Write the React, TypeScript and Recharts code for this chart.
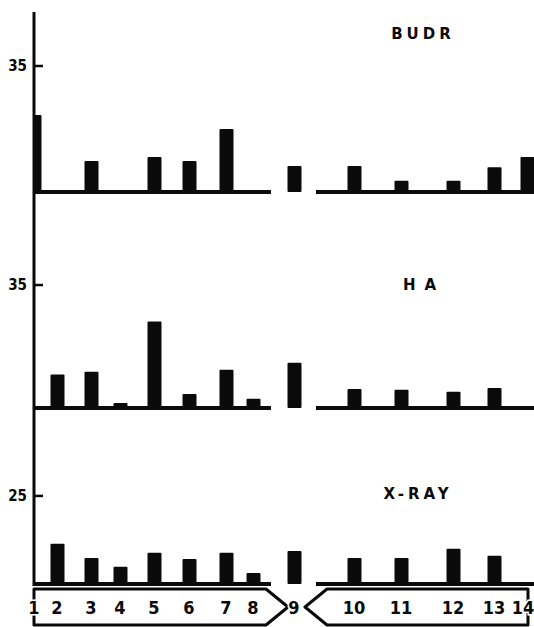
import React from "react";
import {
  Bar,
  ComposedChart,
  Customized,
  ReferenceArea,
  ReferenceLine,
  Scatter,
  XAxis,
  YAxis,
} from "recharts";

// map position of each marker along the chromosome (arbitrary map units)
const positions = [0, 23, 57, 86, 120, 155, 192, 219, 260, 320, 367, 419, 460, 493];
const markerLabels = ["1", "2", "3", "4", "5", "6", "7", "8", "9", "10", "11", "12", "13", "14"];

const budr = [21.4, 0, 8.6, 0, 9.7, 8.6, 17.5, 0, 7.2, 7.2, 3.1, 3.1, 6.9, 9.7];
const ha = [0, 9.5, 10.3, 1.4, 24.6, 4.0, 10.9, 2.6, 12.9, 5.4, 5.2, 4.6, 5.7, 0];
const xray = [0, 11.4, 7.4, 4.9, 8.9, 7.1, 8.9, 3.1, 9.4, 7.4, 7.4, 10, 8, 0];

// chromosome arms (map units): short arm / long arm
const baselineArms = [
  [0, 237],
  [282, 500],
];
const outlineArms = [
  [0, 254],
  [271, 494],
];

const X_DOMAIN: [number, number] = [0, 500];
const INK = "#0a0a0a";
const NUM_FONT = "'Liberation Sans Narrow', 'DejaVu Sans Condensed', sans-serif";

type Panel = {
  title: string;
  values: number[];
  tick: number;
  domain: [number, number];
  height: number;
  top: number;
  titleX: number;
  titleY: number;
  titleSize: number;
  spacing: number;
};

const PANELS: Panel[] = [
  { title: "BUDR", values: budr, tick: 35, domain: [-2.22, 50], height: 200, top: 12, titleX: 423, titleY: 34, titleSize: 15, spacing: 4 },
  { title: "HA", values: ha, tick: 35, domain: [-0.57, 59.2], height: 210, top: 0, titleX: 424, titleY: 85, titleSize: 15, spacing: 9 },
  { title: "X-RAY", values: xray, tick: 25, domain: [-0.57, 49.4], height: 176, top: 0, titleX: 418, titleY: 84, titleSize: 15, spacing: 4 },
];

// eslint-disable-next-line @typescript-eslint/no-explicit-any
function YTick({ y, payload }: any) {
  return (
    <g>
      <line x1={34} x2={43} y1={y} y2={y} stroke={INK} strokeWidth={2.5} />
      <text
        x={27}
        y={y}
        textAnchor="end"
        dominantBaseline="central"
        fontFamily={NUM_FONT}
        fontWeight="bold"
        fontSize={15}
        fill={INK}
      >
        {payload.value}
      </text>
    </g>
  );
}

function PanelChart({ panel }: { panel: Panel }) {
  const data = positions.map((pos, i) => ({ pos, value: panel.values[i] }));
  return (
    <ComposedChart
      width={534}
      height={panel.height}
      data={data}
      margin={{ top: panel.top, right: 0, bottom: 0, left: 0 }}
    >
      <XAxis type="number" dataKey="pos" domain={X_DOMAIN} hide allowDataOverflow />
      <YAxis
        type="number"
        domain={panel.domain}
        ticks={[panel.tick]}
        width={34}
        allowDataOverflow
        tickLine={false}
        axisLine={{ stroke: INK, strokeWidth: 3 }}
        tick={<YTick />}
      />
      {baselineArms.map(([a, b]) => (
        <ReferenceLine
          key={a}
          segment={[
            { x: a, y: 0 },
            { x: b, y: 0 },
          ]}
          stroke={INK}
          strokeWidth={4}
        />
      ))}
      <Bar dataKey="value" fill={INK} barSize={14} radius={1} isAnimationActive={false} />
      <Customized
        component={() => (
          <text
            x={panel.titleX}
            y={panel.titleY}
            textAnchor="middle"
            dominantBaseline="central"
            fontFamily="'DejaVu Sans', sans-serif"
            fontWeight="bold"
            fontSize={panel.titleSize}
            letterSpacing={panel.spacing}
            fill={INK}
          >
            {panel.title}
          </text>
        )}
      />
    </ComposedChart>
  );
}

// eslint-disable-next-line @typescript-eslint/no-explicit-any
function LeftArm({ x, y, width, height }: any) {
  const d = `M${x},${y} L${x + width - 22},${y} L${x + width},${y + height / 2} L${x + width - 22},${y + height} L${x},${y + height} Z`;
  return <path d={d} fill="none" stroke={INK} strokeWidth={3} strokeLinejoin="round" />;
}

// eslint-disable-next-line @typescript-eslint/no-explicit-any
function RightArm({ x, y, width, height }: any) {
  const d = `M${x + width},${y} L${x + 22},${y} L${x},${y + height / 2} L${x + 22},${y + height} L${x + width},${y + height} Z`;
  return <path d={d} fill="none" stroke={INK} strokeWidth={3} strokeLinejoin="round" />;
}

// eslint-disable-next-line @typescript-eslint/no-explicit-any
function MarkerLabel({ cx, cy, payload }: any) {
  // keep the last label inside the picture
  const x = Math.min(cx, 523);
  return (
    <text
      x={x}
      y={cy}
      textAnchor="middle"
      dominantBaseline="central"
      fontFamily={NUM_FONT}
      fontWeight="bold"
      fontSize={18}
      fill={INK}
      stroke="#fff"
      strokeWidth={3}
      paintOrder="stroke"
    >
      {payload.label}
    </text>
  );
}

function ChromosomeStrip() {
  const data = positions.map((pos, i) => ({ pos, mid: 0.5, label: markerLabels[i] }));
  return (
    <ComposedChart width={534} height={41} data={data} margin={{ top: 3, right: 0, bottom: 2, left: 34 }}>
      <XAxis type="number" dataKey="pos" domain={X_DOMAIN} hide />
      <YAxis type="number" dataKey="mid" domain={[0, 1]} hide />
      <ReferenceArea x1={outlineArms[0][0]} x2={outlineArms[0][1]} y1={0} y2={1} shape={<LeftArm />} />
      <ReferenceArea x1={outlineArms[1][0]} x2={outlineArms[1][1]} y1={0} y2={1} shape={<RightArm />} />
      <Scatter dataKey="mid" shape={<MarkerLabel />} isAnimationActive={false} />
    </ComposedChart>
  );
}

export default function App() {
  return (
    <div style={{ position: "absolute", top: 0, left: 0, width: 534, height: 627, background: "#fff" }}>
      {PANELS.map((p) => (
        <PanelChart key={p.title} panel={p} />
      ))}
      <ChromosomeStrip />
    </div>
  );
}
